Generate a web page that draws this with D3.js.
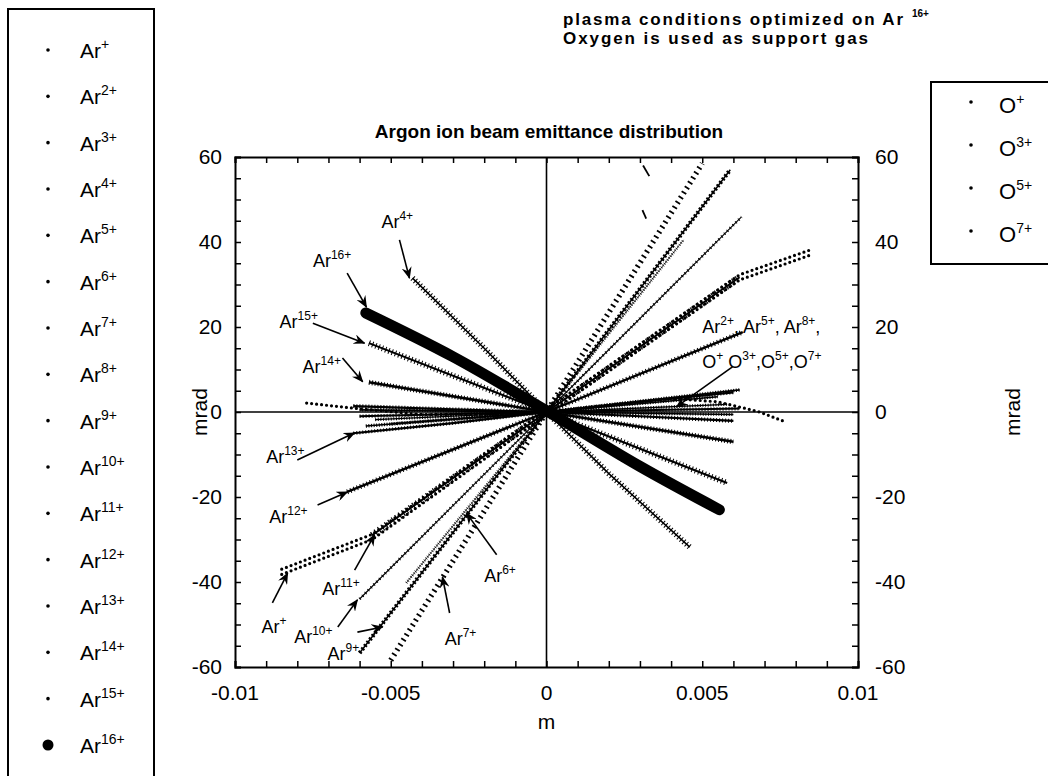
<!DOCTYPE html>
<html>
<head>
<meta charset="utf-8">
<script src="https://cdn.jsdelivr.net/npm/d3@7"></script>
<style>
  html, body { margin: 0; padding: 0; background: #fff; }
  svg { display: block; font-family: "Liberation Sans", Arial, Helvetica, sans-serif; }
</style>
</head>
<body>
<svg id="chart" width="1048" height="776"></svg>
<script>
// ---- data (m, mrad) ----
const xTicks = [-0.01, -0.005, 0, 0.005, 0.01]
const yTicks = [-60, -40, -20, 0, 20, 40, 60]

const argonNames = ['+', '2+', '3+', '4+', '5+', '6+', '7+', '8+', '9+', '10+', '11+', '12+', '13+', '14+', '15+', '16+']
const oxygenNames = ['+', '3+', '5+', '7+']

const ar1 = [[-0.0085, -37.6], [-0.0056, -29.4], [0, 0], [0.0062, 31.7], [0.0085, 37.6]]
const ar2 = [[-0.0062, 1.4], [-0.003, 0.6], [0, 0], [0.003, -1.0], [0.006, -2.1]]
const ar3a = [[0.0031, 58], [0.0033, 55.5]]
const ar3b = [[0.00308, 47.5], [0.0032, 45.5]]
const ar4 = [[-0.0043, 31.5], [-0.002, 15], [0, 0], [0.002, -14.5], [0.0046, -31.8]]
const ar5 = [[-0.0077, 2.1], [-0.0062, 0.9], [-0.004, -0.6], [-0.002, -0.5], [0, 0], [0.002, 1.6], [0.004, 3.2], [0.0055, 2.4], [0.0068, 0.1], [0.0077, -2.4]]
const ar6 = [[-0.0045, -40.2], [0, 0], [0.0044, 40.5]]
const ar7 = [[-0.005, -58.4], [0, 0], [0.005, 58.5]]
const ar8 = [[-0.006, -1.0], [0, 0], [0.0062, 0.8]]
const ar9 = [[-0.006, -56.7], [0, 0], [0.0059, 57]]
const ar10 = [[-0.006, -44], [0, 0], [0.00626, 45.9]]
const ar11 = [[-0.0056, -29], [0, 0], [0.0062, 31.7]]
const ar12 = [[-0.0064, -18.8], [0, 0], [0.0063, 18.8]]
const ar13 = [[-0.0062, -5], [-0.003, -2.6], [0, 0], [0.003, 2.4], [0.006, 4.6]]
const ar14 = [[-0.0057, 7], [0, 0], [0.006, -7]]
const ar15 = [[-0.0057, 16.2], [0, 0], [0.0058, -16.7]]
const ar16 = [[-0.0058, 23.3], [-0.003, 13], [0, 0.3], [0.003, -12.8], [0.00555, -23]]
const o1 = [[-0.0058, -3.3], [0, 0], [0.0062, 5.2]]
const o3 = [[-0.005, -2.8], [0, 0], [0.0055, 3.6]]
const o5 = [[-0.006, 0.5], [0, 0], [0.006, -0.6]]
const o7 = [[-0.0055, -1.8], [0, 0], [0.0058, 1.8]]

// annotation: label position, arrow start, arrow end (data coords)
const labelText = ['+', '4+', '6+', '7+', '9+', '10+', '11+', '12+', '13+', '14+', '15+', '16+']
const labelAt = [[-0.00915, -52], [-0.0053, 43.3], [-0.002, -40], [-0.00327, -54.8], [-0.00703, -58.4], [-0.0081, -54.4], [-0.0072, -43.1], [-0.0089, -26.1], [-0.009, -12], [-0.00783, 9.2], [-0.00857, 19.8], [-0.0075, 34.1]]
const arrowFrom = [[-0.0088, -44.9], [-0.00472, 40.5], [-0.0016, -33.6], [-0.00311, -47.3], [-0.00607, -51.8], [-0.0067, -50.6], [-0.00616, -37.2], [-0.00735, -21.9], [-0.008, -11.3], [-0.00655, 12.7], [-0.0075, 20.9], [-0.0064, 32.7]]
const arrowTo = [[-0.00831, -37.9], [-0.0044, 31.5], [-0.00257, -23.8], [-0.00334, -38.8], [-0.00526, -50.6], [-0.00607, -44.2], [-0.00552, -28.9], [-0.00639, -18.8], [-0.00616, -4.9], [-0.0059, 7.1], [-0.00584, 16.2], [-0.00578, 24.7]]
const groupLabelAt = [[0.005, 18.6], [0.005, 10.4]]
const groupArrow = [[0.00597, 10.6], [0.00417, 1.2]]

// ---- layout ----
const svg = d3.select('#chart')

const x = d3.scaleLinear().domain([-0.01, 0.01]).range([235, 858])
const y = d3.scaleLinear().domain([-60, 60]).range([667, 157])

svg.append('defs').append('clipPath').attr('id', 'plotclip')
  .append('rect')
  .attr('x', x(-0.01)).attr('y', y(60))
  .attr('width', x(0.01) - x(-0.01)).attr('height', y(-60) - y(60))

svg.select('defs').append('marker')
  .attr('id', 'arrow')
  .attr('viewBox', '0 0 12 10')
  .attr('refX', 11).attr('refY', 5)
  .attr('markerWidth', 12).attr('markerHeight', 10)
  .attr('markerUnits', 'userSpaceOnUse')
  .attr('orient', 'auto')
  .append('path')
  .attr('d', 'M0,0 L12,5 L0,10 L4,5 Z')
  .attr('fill', '#000')

// superscripted label helper
const supText = (sel, base, sup, supSize, raise) => {
  sel.append('tspan').text(base)
  sel.append('tspan').attr('dy', -raise).attr('font-size', supSize).text(sup)
}

// ---- axes ----
const xMinor = d3.range(-10, 11).map(d => d / 1000)
const yMinor = d3.range(-60, 61, 5)

const axes = svg.append('g').attr('class', 'axes')

axes.append('g')
  .attr('transform', `translate(0,${y(-60)})`)
  .call(d3.axisTop(x).tickValues(xMinor).tickSize(6).tickFormat(''))
axes.append('g')
  .attr('transform', `translate(0,${y(60)})`)
  .call(d3.axisBottom(x).tickValues(xMinor).tickSize(6).tickFormat(''))
axes.append('g')
  .attr('transform', `translate(${x(-0.01)},0)`)
  .call(d3.axisRight(y).tickValues(yMinor).tickSize(6).tickFormat(''))
axes.append('g')
  .attr('transform', `translate(${x(0.01)},0)`)
  .call(d3.axisLeft(y).tickValues(yMinor).tickSize(6).tickFormat(''))

axes.selectAll('.domain').attr('stroke-width', 2)
axes.selectAll('.tick line').attr('stroke-width', 1.5)

// zero lines
axes.append('line')
  .attr('x1', x(0)).attr('x2', x(0)).attr('y1', y(60)).attr('y2', y(-60))
  .attr('stroke', '#000').attr('stroke-width', 1.6)
axes.append('line')
  .attr('x1', x(-0.01)).attr('x2', x(0.01)).attr('y1', y(0)).attr('y2', y(0))
  .attr('stroke', '#000').attr('stroke-width', 1.6)

// tick labels
const tickFont = 21
svg.append('g').selectAll('text')
  .data(xTicks)
  .enter().append('text')
  .attr('x', d => x(d))
  .attr('y', y(-60) + 33)
  .attr('text-anchor', 'middle')
  .attr('font-size', tickFont)
  .text(d => d === 0 ? '0' : String(d))

svg.append('g').selectAll('text')
  .data(yTicks)
  .enter().append('text')
  .attr('x', x(-0.01) - 13)
  .attr('y', d => y(d) + 7)
  .attr('text-anchor', 'end')
  .attr('font-size', tickFont)
  .text(d => d)

svg.append('g').selectAll('text')
  .data(yTicks)
  .enter().append('text')
  .attr('x', x(0.01) + 17)
  .attr('y', d => y(d) + 7)
  .attr('text-anchor', 'start')
  .attr('font-size', tickFont)
  .text(d => d)

svg.append('text')
  .attr('x', x(0)).attr('y', y(-60) + 62)
  .attr('text-anchor', 'middle').attr('font-size', tickFont)
  .text('m')

svg.append('text')
  .attr('transform', `translate(${x(-0.01) - 28},${y(0)}) rotate(-90)`)
  .attr('text-anchor', 'middle').attr('font-size', tickFont)
  .text('mrad')

svg.append('text')
  .attr('transform', `translate(${x(0.01) + 162},${y(0)}) rotate(-90)`)
  .attr('text-anchor', 'middle').attr('font-size', tickFont)
  .text('mrad')

svg.append('text')
  .attr('x', 549).attr('y', 138)
  .attr('text-anchor', 'middle')
  .attr('font-size', 19).attr('font-weight', 'bold')
  .text('Argon ion beam emittance distribution')

const note = svg.append('g').attr('font-weight', 'bold').attr('font-size', 17)
note.append('text').attr('x', 563).attr('y', 25)
  .attr('textLength', 340).attr('lengthAdjust', 'spacing')
  .text('plasma conditions optimized on Ar')
note.append('text').attr('x', 912).attr('y', 17).attr('font-size', 10)
  .text('16+')
note.append('text').attr('x', 563).attr('y', 44)
  .attr('textLength', 305).attr('lengthAdjust', 'spacing')
  .text('Oxygen is used as support gas')

// ---- series ----
const line = d3.line().x(d => x(d[0])).y(d => y(d[1]))

const series = [
  { data: ar5, core: 0, over: 3.2, dash: '0 5', cap: 'round' },
  { data: ar8, core: 2, over: 3.5, dash: '1 2' },
  { data: ar2, core: 2.2, over: 4, dash: '1 2' },
  { data: o1, core: 1.6, over: 3.5, dash: '1 1.6' },
  { data: o3, core: 1.4, over: 3, dash: '1 1.6' },
  { data: o5, core: 1.6, over: 3, dash: '1 1.6' },
  { data: o7, core: 1.4, over: 3, dash: '1 1.6' },
  { data: ar13, core: 2.2, over: 3.5, dash: '1 2' },
  { data: ar14, core: 2.6, over: 5, dash: '1 2' },
  { data: ar15, core: 2, over: 6, dash: '1 2.5' },
  { data: ar4, core: 1.5, over: 6, dash: '1 2.5' },
  { data: ar12, core: 2.4, over: 5, dash: '1 2.5' },
  { data: ar11, core: 2, over: 7, dash: '1.2 3' },
  { data: ar10, core: 1.1, over: 3, dash: '1 3' },
  { data: ar6, core: 0.7, over: 3, dash: '0.6 1.8' },
  { data: ar9, core: 1.5, over: 4.2, dash: '2 2.2' },
  { data: ar7, core: 0, over: 5.5, dash: '1.8 4' },
  { data: ar3a, core: 1.8, over: 0 },
  { data: ar3b, core: 1.8, over: 0 }
]

const plot = svg.append('g').attr('clip-path', 'url(#plotclip)')

series.forEach(s => {
  if (s.core > 0) {
    plot.append('path').datum(s.data)
      .attr('d', line).attr('fill', 'none')
      .attr('stroke', '#000').attr('stroke-width', s.core)
  }
  if (s.over > 0) {
    plot.append('path').datum(s.data)
      .attr('d', line).attr('fill', 'none')
      .attr('stroke', '#000').attr('stroke-width', s.over)
      .attr('stroke-dasharray', s.dash)
      .attr('stroke-linecap', s.cap || 'butt')
  }
})

// Ar+ is drawn as a double row of dots
;[-2.6, 2.6].forEach(off => {
  plot.append('path').datum(ar1)
    .attr('d', line).attr('fill', 'none')
    .attr('transform', `translate(0,${off})`)
    .attr('stroke', '#000').attr('stroke-width', 3.2)
    .attr('stroke-dasharray', '0 5').attr('stroke-linecap', 'round')
})

plot.append('path').datum(ar16)
  .attr('d', d3.line().curve(d3.curveCatmullRom).x(d => x(d[0])).y(d => y(d[1])))
  .attr('fill', 'none')
  .attr('stroke', '#000').attr('stroke-width', 11)
  .attr('stroke-linecap', 'round')

// ---- annotations ----
const ann = svg.append('g').attr('font-size', 18)

labelText.forEach((t, i) => {
  const tx = ann.append('text').attr('x', x(labelAt[i][0])).attr('y', y(labelAt[i][1]))
  supText(tx, 'Ar', t, 12, 8)
  ann.append('line')
    .attr('x1', x(arrowFrom[i][0])).attr('y1', y(arrowFrom[i][1]))
    .attr('x2', x(arrowTo[i][0])).attr('y2', y(arrowTo[i][1]))
    .attr('stroke', '#000').attr('stroke-width', 1.6)
    .attr('marker-end', 'url(#arrow)')
})

const g1 = ann.append('text').attr('x', x(groupLabelAt[0][0])).attr('y', y(groupLabelAt[0][1]))
;['2+', '5+', '8+'].forEach((t, i) => {
  g1.append('tspan').attr('dy', i === 0 ? 0 : 8).text((i === 0 ? '' : ', ') + 'Ar')
  g1.append('tspan').attr('dy', -8).attr('font-size', 12).text(t)
})
g1.append('tspan').attr('dy', 8).text(',')

const g2 = ann.append('text').attr('x', x(groupLabelAt[1][0])).attr('y', y(groupLabelAt[1][1]))
oxygenNames.forEach((t, i) => {
  g2.append('tspan').attr('dy', i === 0 ? 0 : 8).text((i === 0 ? '' : (i === 1 ? ' ' : ',')) + 'O')
  g2.append('tspan').attr('dy', -8).attr('font-size', 12).text(t)
})

ann.append('line')
  .attr('x1', x(groupArrow[0][0])).attr('y1', y(groupArrow[0][1]))
  .attr('x2', x(groupArrow[1][0])).attr('y2', y(groupArrow[1][1]))
  .attr('stroke', '#000').attr('stroke-width', 1.6)
  .attr('marker-end', 'url(#arrow)')

// ---- legends ----
const legL = svg.append('g')
legL.append('rect')
  .attr('x', 8).attr('y', 9).attr('width', 146).attr('height', 800)
  .attr('fill', 'none').attr('stroke', '#000').attr('stroke-width', 2)

const rowL = d3.scaleLinear().domain([0, argonNames.length - 1]).range([50, 745])

argonNames.forEach((n, i) => {
  legL.append('circle')
    .attr('cx', 48).attr('cy', rowL(i))
    .attr('r', n === '16+' ? 5.5 : 1.8)
    .attr('fill', '#000')
  const t = legL.append('text').attr('x', 80).attr('y', rowL(i) + 8).attr('font-size', 21)
  supText(t, 'Ar', n, 14, 9)
})

const legR = svg.append('g')
legR.append('rect')
  .attr('x', 931).attr('y', 82).attr('width', 140).attr('height', 182)
  .attr('fill', 'none').attr('stroke', '#000').attr('stroke-width', 2)

const rowR = d3.scaleLinear().domain([0, oxygenNames.length - 1]).range([105, 234])

oxygenNames.forEach((n, i) => {
  legR.append('circle')
    .attr('cx', 971).attr('cy', rowR(i) - 3)
    .attr('r', 1.8).attr('fill', '#000')
  const t = legR.append('text').attr('x', 999).attr('y', rowR(i) + 8).attr('font-size', 22)
  supText(t, 'O', n, 14, 9)
})
</script>
</body>
</html>
